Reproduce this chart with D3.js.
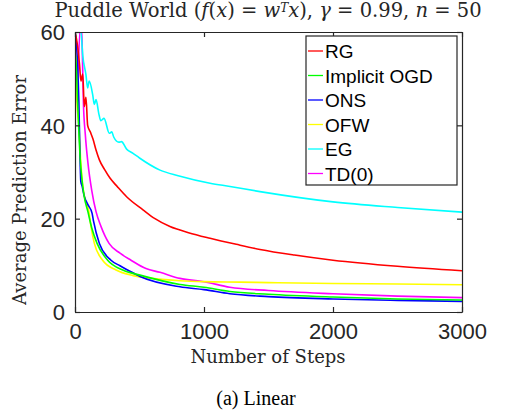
<!DOCTYPE html>
<html lang="en">
<head>
<meta charset="UTF-8">
<title>Puddle World</title>
<script src="https://d3js.org/d3.v7.min.js"></script>
<style>
    body { margin: 0; background: #fff; }
    svg { display: block; }
    .tick text { font-family: "Liberation Sans", Arial, sans-serif; font-size: 22px; fill: #262626; }
    .serif { font-family: "DejaVu Serif", "Liberation Serif", serif; fill: #262626; }
</style>
</head>
<body>
<svg width="517" height="414"></svg>
<script>
// series data: [step, average prediction error]
const rg = [[0,60],[20,57],[35,53],[46,49.5],[60,51],[72,44],[85,46],[98,40],[120,38.5],[140,37],[163,34.7],
    [189,32.6],[230,30.5],[271,28.7],[330,26.8],[400,24.7],[527,21.9],[620,20],[736,18.3],[880,17],[1047,15.8],
    [1250,14.5],[1434,13.4],[1700,12.2],[2000,11.1],[2500,9.8],[3000,8.85]];
const ogd = [[0,45],[5,55],[20,45],[40,33],[70,25],[100,21.5],[130,18],[171,14.7],[253,11.1],[370,9.0],[504,7.9],
    [814,5.9],[1000,5.3],[1200,4.4],[1500,3.8],[2000,3.2],[2500,2.8],[3000,2.57]];
const ons = [[0,60],[10,58],[20,53],[30,45],[40,32],[45,28],[55,27],[70,25],[100,23],[132,21.2],[142,19.7],[189,14.7],
    [279,11.1],[349,9.9],[408,9.0],[504,7.6],[814,5.4],[1000,4.8],[1200,3.9],[1500,3.3],[2000,2.8],[2500,2.5],[3000,2.28]];
const ofw = [[0,25],[3,58],[15,45],[30,40],[45,32],[60,27],[80,24],[106,21.8],[124,18.3],[150,14.7],[214,11.1],
    [318,9.0],[450,7.8],[600,7.2],[814,6.7],[1000,6.5],[1279,6.4],[1500,6.3],[2000,6.1],[2500,6.0],[3000,5.85]];
const eg = [[0,60],[46,60],[60,55],[85,50.8],[98,48],[110,49.5],[137,46.6],[150,44.5],[163,45.5],[186,42.3],[200,41],
    [225,41.5],[266,38.3],[285,38.6],[300,37.5],[340,36.4],[360,36.5],[400,34.9],[450,34],[500,33],
    [659,30.4],[800,29.2],[1047,27.6],[1202,26.9],[1434,25.8],[2000,23.6],[2500,22.4],[3000,21.4]];
const td0 = [[0,60],[8,45],[45,62],[55,58],[65,45],[80,38],[100,32],[130,26],[163,21.5],[202,18.3],[264,14.7],
    [349,12.6],[434,11.1],[550,9.3],[659,8.5],[814,7.2],[1000,6.5],[1200,5.3],[1500,4.6],[2000,3.9],[2500,3.4],[3000,3.07]];

const seriesNames = ["RG", "Implicit OGD", "ONS", "OFW", "EG", "TD(0)"];
const seriesValues = [rg, ogd, ons, ofw, eg, td0];
const seriesColors = ["#ff0000", "#00ff00", "#0000ff", "#ffff00", "#00ffff", "#ff00ff"];
const xTicks = [0, 1000, 2000, 3000];
const yTicks = [0, 20, 40, 60];

const svg = d3.select("svg");
const pL = 75, pR = 462, pT = 32, pB = 312;

const x = d3.scaleLinear().domain([0, 3000]).range([pL, pR]);
const y = d3.scaleLinear().domain([0, 60]).range([pB, pT]);

svg.append("clipPath").attr("id", "clip")
    .append("rect").attr("x", pL).attr("y", pT).attr("width", pR - pL).attr("height", pB - pT);

const line = d3.line().x(d => x(d[0])).y(d => y(d[1])).curve(d3.curveMonotoneX);

// draw in reverse so RG is on top
const plot = svg.append("g").attr("clip-path", "url(#clip)");
d3.range(seriesValues.length).reverse().forEach(i => {
    plot.append("path")
        .datum(seriesValues[i])
        .attr("fill", "none")
        .attr("stroke", seriesColors[i])
        .attr("stroke-width", 1.6)
        .attr("d", line);
});

// axes, ticks pointing in
const axisStyle = g => {
    g.selectAll(".domain").attr("stroke", "#262626").attr("stroke-width", 1.2);
    g.selectAll(".tick line").attr("stroke", "#262626").attr("stroke-width", 1.2);
};
svg.append("g").attr("transform", `translate(0,${pB})`)
    .call(d3.axisBottom(x).tickValues(xTicks).tickFormat(d3.format("d")).tickSize(-5).tickSizeOuter(0).tickPadding(10))
    .call(axisStyle)
    .call(g => g.selectAll(".tick text").attr("dy", "0.75em"));
svg.append("g").attr("transform", `translate(0,${pT})`)
    .call(d3.axisTop(x).tickValues(xTicks).tickSize(-5).tickSizeOuter(0).tickFormat(""))
    .call(axisStyle);
svg.append("g").attr("transform", `translate(${pL},0)`)
    .call(d3.axisLeft(y).tickValues(yTicks).tickSize(-5).tickSizeOuter(0).tickPadding(10))
    .call(axisStyle)
    .call(g => g.selectAll(".tick text").attr("dy", "0.36em"));
svg.append("g").attr("transform", `translate(${pR},0)`)
    .call(d3.axisRight(y).tickValues(yTicks).tickSize(-5).tickSizeOuter(0).tickFormat(""))
    .call(axisStyle);

// legend
const lg = svg.append("g");
lg.append("rect").attr("x", 306).attr("y", 36).attr("width", 151).attr("height", 149)
    .attr("fill", "#fff").attr("stroke", "#262626").attr("stroke-width", 1.2);
seriesNames.forEach((name, i) => {
    const yy = 51 + i * 24.5;
    lg.append("line").attr("x1", 308).attr("x2", 323).attr("y1", yy).attr("y2", yy)
        .attr("stroke", seriesColors[i]).attr("stroke-width", 1.3);
    lg.append("text").attr("x", 325).attr("y", yy + 7)
        .attr("font-family", "Liberation Sans, Arial, sans-serif").attr("font-size", 19)
        .attr("fill", "#000").text(name);
});

// title
const title = svg.append("text").attr("class", "serif").attr("x", 268).attr("y", 17)
    .attr("text-anchor", "middle").attr("font-size", 19.5);
title.append("tspan").text("Puddle World (");
title.append("tspan").attr("font-style", "italic").text("f");
title.append("tspan").text("(");
title.append("tspan").attr("font-style", "italic").text("x");
title.append("tspan").text(") = ");
title.append("tspan").attr("font-style", "italic").text("w");
title.append("tspan").attr("font-style", "italic").attr("font-size", 12).attr("dy", -5).text("T");
title.append("tspan").attr("font-style", "italic").attr("dy", 5).text("x");
title.append("tspan").text("), ");
title.append("tspan").attr("font-style", "italic").text("γ");
title.append("tspan").text(" = 0.99, ");
title.append("tspan").attr("font-style", "italic").text("n");
title.append("tspan").text(" = 50");

svg.append("text").attr("class", "serif")
    .attr("transform", "translate(26,190) rotate(-90)")
    .attr("text-anchor", "middle").attr("font-size", 18).text("Average Prediction Error");

svg.append("text").attr("class", "serif").attr("x", 268).attr("y", 363)
    .attr("text-anchor", "middle").attr("font-size", 18).text("Number of Steps");

svg.append("text").attr("x", 256).attr("y", 405)
    .attr("text-anchor", "middle").attr("font-family", "Liberation Serif, Times New Roman, serif")
    .attr("font-size", 20).attr("fill", "#000").text("(a) Linear");
</script>
</body>
</html>
